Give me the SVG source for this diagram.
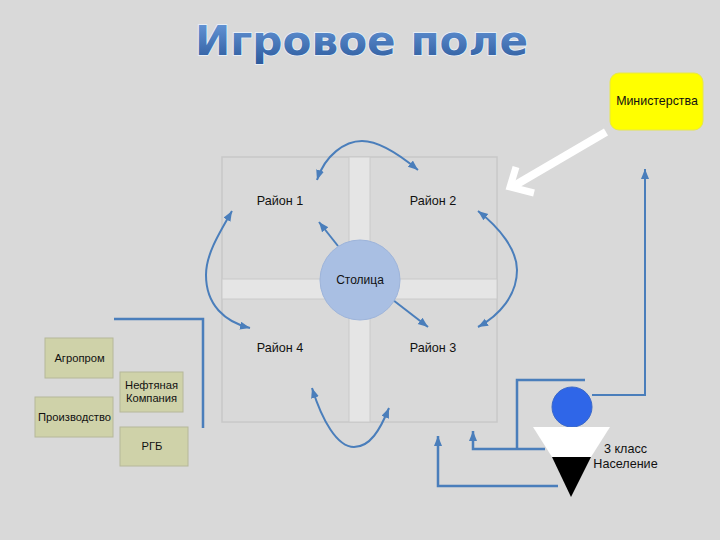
<svg xmlns="http://www.w3.org/2000/svg" width="720" height="540" viewBox="0 0 720 540">
<style>
.t{font-family:"Liberation Sans",Arial,sans-serif;font-size:12.600px;fill:#111;text-anchor:middle}
.s{font-size:11.200px}
.c{fill:none;stroke:#4a7ebb;stroke-width:2}
.w{stroke-width:2.500}
.a{marker-end:url(#h)}
.b{marker-start:url(#h);marker-end:url(#h)}
.g{fill:#cfd2a9;stroke:#b6b89a;stroke-width:1}
</style>
<defs>
<linearGradient id="tg" x1="0" y1="0" x2="0" y2="1"><stop offset="0" stop-color="#6a9bdc"/><stop offset="1" stop-color="#2c5a9c"/></linearGradient>
<marker id="h" markerUnits="userSpaceOnUse" markerWidth="12" markerHeight="10" refX="10" refY="4" orient="auto-start-reverse"><path d="M0,0L10,4L0,8Z" fill="#4a7ebb"/></marker>
</defs>
<rect width="720" height="540" fill="#d9d9d9"/>
<text id="title" x="361.500" y="55" text-anchor="middle" textLength="333" lengthAdjust="spacingAndGlyphs" style="font-family:'DejaVu Sans',sans-serif;font-weight:bold;font-size:40px;fill:url(#tg);stroke:#eaf3fb;stroke-width:1.500px;paint-order:stroke">Игровое поле</text>
<g id="board">
<rect x="222" y="157" width="275" height="265" fill="#d9d9d9" stroke="#c8c8c8" stroke-width="1.500"/>
<rect x="349" y="157" width="21" height="265" fill="#e5e5e5" stroke="#cacaca"/>
<rect x="222" y="279" width="275" height="20" fill="#e5e5e5" stroke="#cacaca"/>
</g>
<g id="connectors">
<path class="c b" d="M317,180C325,155 345,141 362,141C380,141 400,155 418,170"/>
<path class="c b" d="M232,211C218,235 206,255 206,275C206,305 225,322 250,328"/>
<path class="c b" d="M478,211C500,228 517,250 517,270C517,295 500,315 478,327"/>
<path class="c b" d="M312,388C322,420 337,447 354,447C370,447 380,430 389,408"/>
<path class="c a" d="M338,246L319,222"/>
<path class="c a" d="M393,300L428,327"/>
<path class="c a" d="M592,395H645V169"/>
<path class="c w" d="M585,380H517V449"/>
<path class="c w a" d="M545,449H473V431"/>
<path class="c w a" d="M558,486H438V436"/>
<path class="c w" d="M114,319H203V428"/>
<path d="M606,132L512,187" fill="none" stroke="#fff" stroke-width="8"/>
<path d="M516,167L510,187L534,193" fill="none" stroke="#fff" stroke-width="7"/>
</g>
<g id="n-capital"><circle cx="360" cy="280" r="40" fill="#a9bfe3" stroke="#9db4da"/><text class="t" style="font-size:12px" x="360" y="283.500">Столица</text></g>
<g id="n-d1"><text class="t" x="280" y="204.500">Район 1</text></g>
<g id="n-d2"><text class="t" x="433" y="204.500">Район 2</text></g>
<g id="n-d4"><text class="t" x="280" y="351.500">Район 4</text></g>
<g id="n-d3"><text class="t" x="433" y="351.500">Район 3</text></g>
<g id="n-ministry"><rect x="610" y="73" width="93" height="57" rx="9" fill="#ffff00" stroke="#e6e64d"/><text class="t" x="657" y="105" style="font-size:12.400px">Министерства</text></g>
<g id="n-agro"><rect class="g" x="45" y="338" width="68" height="40"/><text class="t s" x="79.500" y="362">Агропром</text></g>
<g id="n-oil"><rect class="g" x="120" y="372" width="63" height="40"/><text class="t s" x="151.500" y="389">Нефтяная</text><text class="t s" x="151.500" y="402">Компания</text></g>
<g id="n-prod"><rect class="g" x="35" y="397" width="78" height="40"/><text class="t s" x="74.500" y="421">Производство</text></g>
<g id="n-rgb"><rect class="g" x="120" y="427" width="68" height="39"/><text class="t s" x="152" y="450">РГБ</text></g>
<g id="n-pop">
<circle cx="572" cy="407" r="20" fill="#2f66e8" stroke="#3a68c8"/>
<path d="M533,427H610L591,457H552Z" fill="#fff"/>
<path d="M552,457H591L571,497Z" fill="#000"/>
<text class="t" x="625.500" y="453">3 класс</text>
<text class="t" x="625.500" y="468">Население</text>
</g>
</svg>
